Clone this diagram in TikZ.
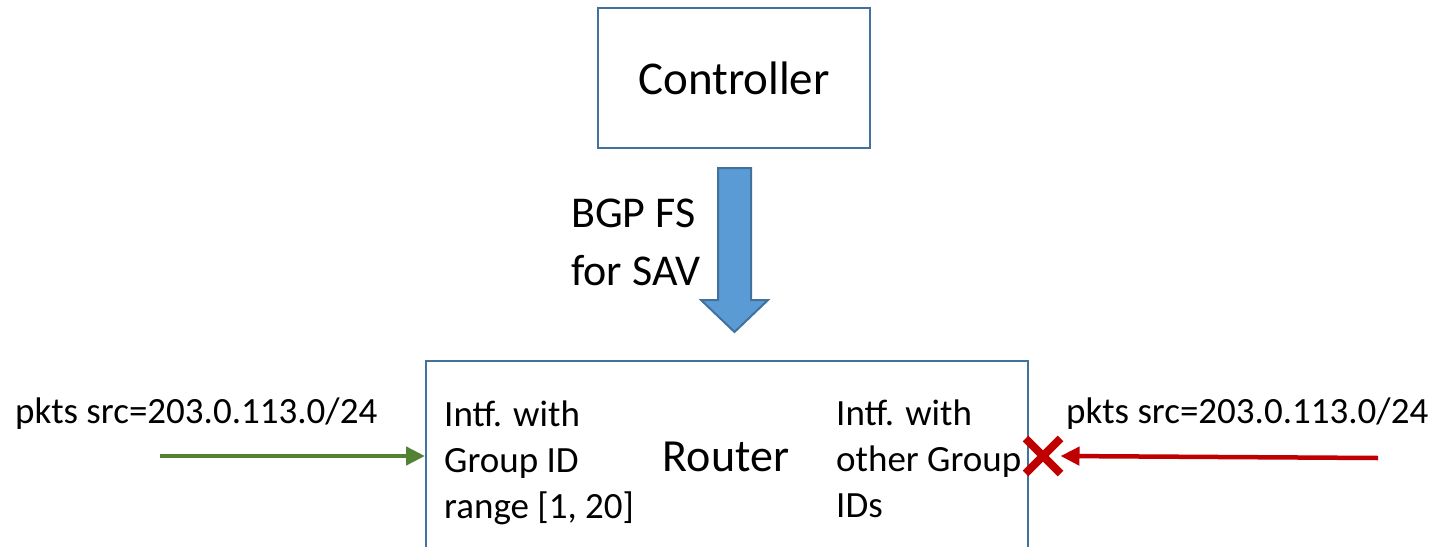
\documentclass[tikz,border=0pt]{standalone}
\usepackage{fontspec}
\setmainfont{Carlito}
\usetikzlibrary{arrows.meta,shapes.misc}
\definecolor{boxblue}{HTML}{41719C}
\definecolor{fillblue}{HTML}{5B9BD5}
\definecolor{okgreen}{HTML}{548235}
\definecolor{dropred}{HTML}{C00000}
\tikzset{
  box/.style={draw=boxblue, line width=2pt, inner sep=0pt},
  lbl/.style={inner sep=0pt, align=left, font=\fontsize{37}{46}\selectfont},
  flow/.style={line width=4.5pt, -{Triangle[length=19pt,width=18pt]}},
}
\begin{document}
\begin{tikzpicture}[x=1pt,y=-1pt]
\clip (0,0) rectangle (1434,546);

% boxes
\node[box, minimum width=272pt, minimum height=140pt,
  font=\fontsize{47}{56}\selectfont] (ctrl) at (734,78) {Controller};
\node[box, minimum width=602pt, minimum height=190pt] (router) at (727,456) {};
\node[inner sep=0pt, font=\fontsize{46}{55}\selectfont] (rname) at (726,457) {Router};

% interfaces
\node[lbl, anchor=west] (intfin) at (444,463) {Intf. with\\Group ID\\range [1, 20]};
\node[lbl, anchor=west] (intfout) at (836,458.5) {Intf. with\\other Group\\IDs};

% block arrow
\draw[boxblue, fill=fillblue, line width=2pt]
  (718,168) -- (751,168) -- (751,300) -- (768,300)
  -- (734.5,332) -- (701,300) -- (718,300) -- cycle;
\node[lbl, anchor=west, font=\fontsize{44}{58}\selectfont] (fslbl) at (571,242) {BGP FS\\for SAV};

% packets
\node[lbl, anchor=west] (pin) at (15,414) {pkts src=203.0.113.0/24};
\node[lbl, anchor=west] (pout) at (1066,414) {pkts src=203.0.113.0/24};

\coordinate (gsrc) at (160,456);
\coordinate (rsrc) at (1378,458);
\node[cross out, draw=dropred, line width=8pt, minimum size=27pt, inner sep=0pt] (blk) at (1043,456) {};
\draw[flow, okgreen] (gsrc) -- (gsrc -| router.west);
\draw[flow, dropred] (rsrc) -- (blk.east);
\end{tikzpicture}
\end{document}
